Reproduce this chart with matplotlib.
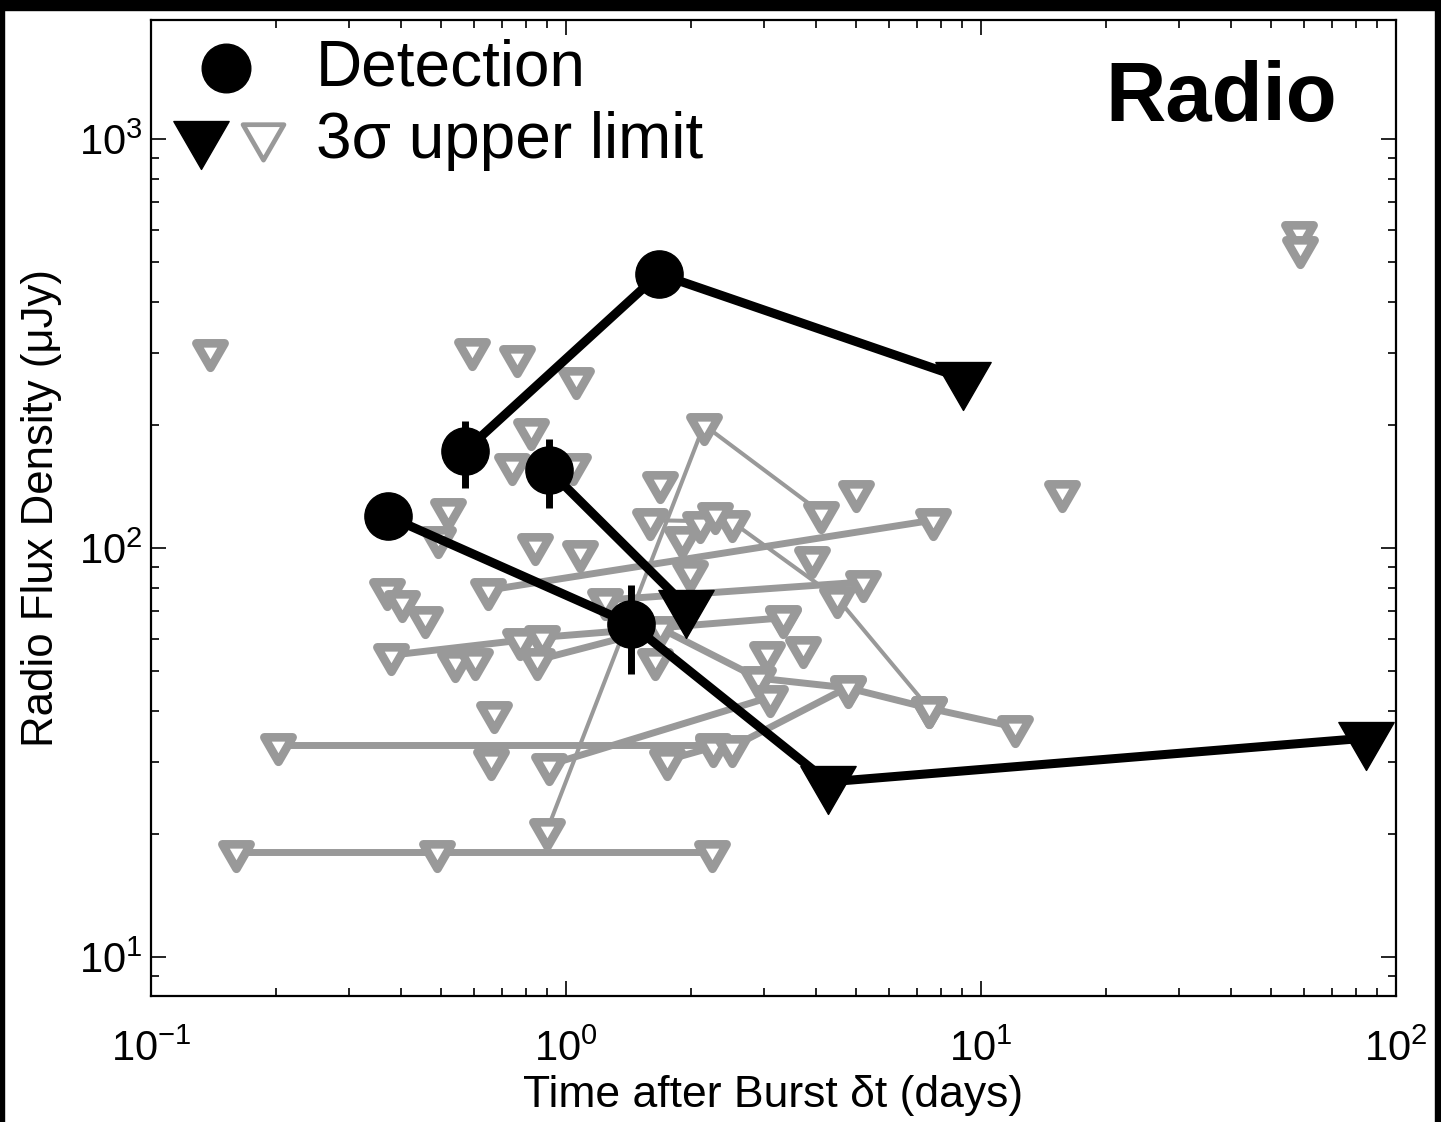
import matplotlib
matplotlib.use('Agg')
import matplotlib.pyplot as plt
from matplotlib.path import Path
from matplotlib.markers import MarkerStyle
from matplotlib.patches import Rectangle
from matplotlib.ticker import LogLocator, NullFormatter

plt.rcParams['font.family'] = ['Liberation Sans', 'DejaVu Sans']
plt.rcParams['mathtext.fontset'] = 'custom'
plt.rcParams['mathtext.rm'] = 'Liberation Sans'
plt.rcParams['mathtext.it'] = 'Liberation Sans:italic'

# ---------------- data (days, microJy) ----------------
# black: detections (circles) followed by upper limits (triangles)
det_a_t = [0.571, 1.675]
det_a_f = [172.6, 468.0]
det_a_e = [32, 0]
lim_a_t = [9.05]
lim_a_f = [260.0]

det_b_t = [0.372, 1.434]
det_b_f = [119.7, 65.2]
det_b_e = [0, 16]
lim_b_t = [4.28, 84.7]
lim_b_f = [26.8, 34.3]

det_c_t = [0.910]
det_c_f = [155.0]
det_c_e = [30]
lim_c_t = [1.946]
lim_c_f = [72.1]

# grey: upper limits joined per burst (thick lines)
g1_t = [0.160, 0.489, 2.25]
g1_f = [18.1, 18.1, 18.1]
g2_t = [0.202, 2.26]
g2_f = [33.0, 33.0]
g3_t = [0.649, 7.66]
g3_f = [78.9, 117.0]
g4_t = [0.379, 0.775, 0.875, 3.33]
g4_f = [54.7, 59.5, 60.5, 67.5]
g5_t = [0.851, 1.685, 2.90, 4.78, 7.49, 12.08]
g5_f = [53.2, 63.7, 48.1, 45.5, 40.6, 36.5]
g6_t = [0.910, 3.10]
g6_f = [29.5, 43.2]
g7_t = [1.75, 2.26, 2.51, 4.78]
g7_f = [30.3, 32.6, 32.6, 45.7]
g8_t = [1.24, 5.20]
g8_f = [74.6, 82.6]
# grey: thin lines
t1_t = [0.90, 2.15, 4.12]
t1_f = [20.4, 200.0, 122.0]
t2_t = [1.594, 2.51, 4.50, 7.49]
t2_f = [117.0, 116.0, 75.5, 40.6]
# grey: isolated upper limits
iso_t = [0.139, 0.593, 0.762, 1.057, 0.823, 0.741, 1.04, 0.519, 0.492, 0.842,
         1.08, 0.370, 0.402, 0.457, 0.540, 0.604, 0.671, 0.660, 1.685, 1.904,
         2.10, 2.29, 1.99, 5.0, 15.7, 3.92, 3.33, 3.05, 3.72, 58.4, 58.7, 1.64]
iso_f = [303, 305, 293, 259, 194, 160, 160, 124, 106, 101.7,
         97.8, 78.9, 73.8, 67.5, 52.6, 53.2, 39.5, 30.3, 144, 106,
         115, 121, 87.4, 137, 137, 94.5, 67.8, 55.4, 57.0, 589, 541, 53.2]

xticks = [0.1, 1, 10, 100]
xticklabels = [r'$10^{-1}$', r'$10^{0}$', r'$10^{1}$', r'$10^{2}$']
yticks = [10, 100, 1000]
yticklabels = [r'$10^{1}$', r'$10^{2}$', r'$10^{3}$']

# ---------------- figure ----------------
W, H = 1441, 1122
fig = plt.figure(figsize=(W / 100, H / 100), dpi=100)
ax = fig.add_axes([151 / W, (H - 996) / H, 1245 / W, 976 / H])
ax.set_xscale('log')
ax.set_yscale('log')

GREY = '#999999'
tri_path = Path([(-0.866, 0.5), (0.866, 0.5), (0.0, -1.0), (-0.866, 0.5)], closed=True)
tri = MarkerStyle(tri_path, joinstyle='miter')

gkw = dict(color=GREY, marker=tri, ms=23.5, mew=6.2, mec=GREY, mfc='white',
           solid_joinstyle='miter', zorder=3)
for t, f in [(g1_t, g1_f), (g2_t, g2_f), (g3_t, g3_f), (g4_t, g4_f),
             (g5_t, g5_f), (g6_t, g6_f), (g7_t, g7_f), (g8_t, g8_f)]:
    ax.plot(t, f, lw=5.0, **gkw)
for t, f in [(t1_t, t1_f), (t2_t, t2_f)]:
    ax.plot(t, f, lw=2.9, **gkw)
ax.plot(iso_t, iso_f, ls='none', **gkw)

# black series
for dt, df, de, lt, lf in [(det_a_t, det_a_f, det_a_e, lim_a_t, lim_a_f),
                           (det_b_t, det_b_f, det_b_e, lim_b_t, lim_b_f),
                           (det_c_t, det_c_f, det_c_e, lim_c_t, lim_c_f)]:
    ax.plot(dt + lt, df + lf, color='black', lw=6.5, zorder=5)
    ax.errorbar(dt, df, yerr=de, fmt='none', ecolor='black', elinewidth=5,
                capsize=0, zorder=6)
    ax.plot(dt, df, ls='none', marker='o', ms=34, color='black', zorder=7)
    ax.plot(lt, lf, ls='none', marker=tri, ms=46, color='black', mew=1, zorder=7)

ax.set_xlim(0.1, 100)
ax.set_ylim(8.03, 1955)

ax.set_xticks(xticks)
ax.set_xticklabels(xticklabels)
ax.set_yticks(yticks)
ax.set_yticklabels(yticklabels)
ax.xaxis.set_minor_locator(LogLocator(base=10, subs=range(2, 10)))
ax.yaxis.set_minor_locator(LogLocator(base=10, subs=range(2, 10)))
ax.xaxis.set_minor_formatter(NullFormatter())
ax.yaxis.set_minor_formatter(NullFormatter())
ax.tick_params(which='both', direction='in', top=True, right=True, width=1.2,
               labelsize=30, colors='black')
ax.tick_params(which='major', length=11)
ax.tick_params(which='minor', length=6)
ax.tick_params(axis='x', which='major', pad=24)
ax.tick_params(axis='y', which='major', pad=6)
for s in ax.spines.values():
    s.set_linewidth(1.6)

ax.set_xlabel('Time after Burst δt (days)', fontsize=32, labelpad=4)
ax.set_ylabel('Radio Flux Density (μJy)', fontsize=31.5, labelpad=12)

# legend (manual, axes fraction)
def axf(px, py):
    return ((px - 151) / 1245, (996 - py) / 976)

ax.plot(*axf(226, 68), transform=ax.transAxes, marker='o', ms=35, color='black',
        clip_on=False, zorder=8)
ax.plot(*axf(201, 137), transform=ax.transAxes, marker=tri, ms=46, color='black',
        mew=1, clip_on=False, zorder=8)
ax.plot(*axf(263, 136), transform=ax.transAxes, marker=tri, ms=34, mew=3.4,
        mec=GREY, mfc='white', clip_on=False, zorder=8)
ax.text(*axf(316, 68), 'Detection', transform=ax.transAxes, fontsize=46,
        va='center', ha='left')
ax.text(*axf(316, 141), '3σ upper limit', transform=ax.transAxes, fontsize=46,
        va='center', ha='left')
ax.text(*axf(1337, 99), 'Radio', transform=ax.transAxes, fontsize=60,
        fontweight='bold', va='center', ha='right')

# black frame remnants around the image
fig.patches.append(Rectangle((0, 1 - 10 / H), 1, 10 / H, transform=fig.transFigure,
                             color='black', zorder=0))
fig.patches.append(Rectangle((0, 0), 4 / W, 1, transform=fig.transFigure,
                             color='black', zorder=0))
fig.patches.append(Rectangle((1 - 6 / W, 0), 6 / W, 1, transform=fig.transFigure,
                             color='black', zorder=0))

fig.savefig('out.png', dpi=100, facecolor='white')
